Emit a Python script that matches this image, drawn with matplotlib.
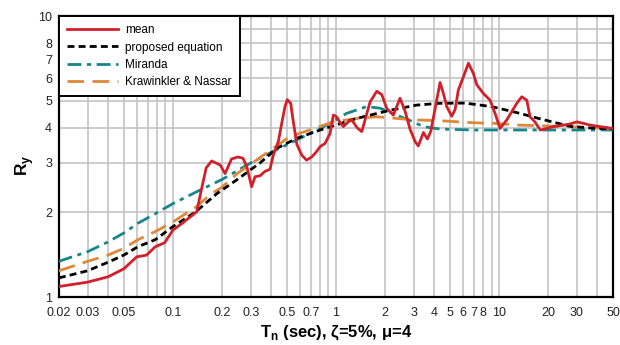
import matplotlib
matplotlib.use("Agg")
import matplotlib.pyplot as plt
from matplotlib.ticker import FixedLocator, NullFormatter

plt.rcParams['font.family'] = ['Liberation Sans', 'DejaVu Sans']

# mean
mean_T = [0.02, 0.03, 0.04, 0.05, 0.06, 0.069, 0.078, 0.089, 0.1, 0.114, 0.14, 0.147,
          0.16, 0.173, 0.195, 0.209, 0.229, 0.25, 0.269, 0.284, 0.304, 0.319, 0.342,
          0.367, 0.394, 0.413, 0.443, 0.465, 0.487, 0.503, 0.528, 0.548, 0.575, 0.617,
          0.66, 0.71, 0.76, 0.80, 0.857, 0.92, 0.964, 1.0, 1.034, 1.11, 1.19, 1.25,
          1.35, 1.44, 1.62, 1.78, 1.91, 2.05, 2.25, 2.47, 2.65, 2.85, 3.06, 3.2, 3.44,
          3.64, 3.82, 4.15, 4.35, 4.56, 4.78, 5.13, 5.38, 5.63, 6.05, 6.49, 6.96, 7.3,
          8.02, 8.81, 9.46, 10.15, 11.16, 12.85, 13.79, 14.8, 15.5, 16.6, 17.9, 19.6,
          21.6, 24.8, 27.3, 30.0, 32.9, 36.2, 41.7, 50.0]
mean_R = [1.09, 1.13, 1.18, 1.26, 1.39, 1.41, 1.51, 1.56, 1.73, 1.83, 2.01, 2.30,
          2.88, 3.05, 2.95, 2.75, 3.10, 3.15, 3.12, 2.91, 2.47, 2.68, 2.70,
          2.80, 2.85, 3.20, 3.57, 4.15, 4.76, 5.04, 4.89, 4.20, 3.50, 3.20,
          3.07, 3.15, 3.29, 3.43, 3.52, 3.82, 4.44, 4.40, 4.27, 4.04, 4.20, 4.27,
          4.00, 3.88, 4.95, 5.40, 5.25, 4.69, 4.44, 5.10, 4.60, 3.95, 3.57, 3.45, 3.85,
          3.65, 3.90, 5.02, 5.80, 5.30, 4.76, 4.40, 4.65, 5.45, 6.08, 6.79, 6.25, 5.70,
          5.30, 5.02, 4.50, 3.98, 4.27, 4.89, 5.16, 5.02, 4.38, 4.20, 3.93, 3.98,
          4.04, 4.09, 4.13, 4.20, 4.15, 4.09, 4.04, 3.98]

# proposed equation
prop_T = [0.02, 0.03, 0.04, 0.05, 0.061, 0.078, 0.1, 0.138, 0.1855, 0.246, 0.342,
          0.433, 0.574, 0.80, 1.34, 2.15, 3.13, 4.3, 6.2, 9.0, 11.2, 13.5, 17.5,
          23.0, 28.0, 40.0, 50.0]
prop_R = [1.17, 1.24, 1.33, 1.41, 1.51, 1.60, 1.78, 2.01, 2.33, 2.61, 3.00,
          3.38, 3.67, 3.93, 4.32, 4.62, 4.82, 4.89, 4.90, 4.76, 4.62, 4.50, 4.32,
          4.15, 4.04, 3.98, 3.97]

# Miranda
mir_T = [0.02, 0.03, 0.04, 0.05, 0.061, 0.078, 0.1, 0.14, 0.2, 0.3, 0.4, 0.52,
         0.84, 1.16, 1.54, 1.86, 2.36, 2.98, 3.44, 4.35, 7.0, 50.0]
mir_R = [1.34, 1.45, 1.57, 1.69, 1.83, 1.98, 2.15, 2.37, 2.62, 3.00, 3.27, 3.52,
         4.04, 4.50, 4.76, 4.70, 4.44, 4.20, 4.04, 3.96, 3.93, 3.93]

# Krawinkler & Nassar
kn_T = [0.02, 0.03, 0.04, 0.05, 0.061, 0.078, 0.1, 0.14, 0.17, 0.2, 0.246, 0.36,
        0.52, 0.69, 0.96, 1.34, 1.78, 2.36, 3.0, 4.35, 7.0, 9.3, 13.4, 27.0, 50.0]
kn_R = [1.24, 1.34, 1.41, 1.49, 1.60, 1.71, 1.85, 2.10, 2.32, 2.46, 2.74, 3.20,
        3.72, 3.93, 4.20, 4.32, 4.38, 4.32, 4.27, 4.24, 4.17, 4.15, 4.09, 4.04, 3.98]

x_ticks = [0.02, 0.03, 0.05, 0.1, 0.2, 0.3, 0.5, 0.7, 1, 2, 3, 4, 5, 6, 7, 8, 10, 20, 30, 50]
x_tick_labels = ["0.02", "0.03", "0.05", "0.1", "0.2", "0.3", "0.5", "0.7", "1", "2", "3",
                 "4", "5", "6", "7", "8", "10", "20", "30", "50"]
x_minor = [0.04, 0.06, 0.07, 0.08, 0.09, 0.4, 0.6, 0.8, 0.9, 9, 40]
y_ticks = [1, 2, 3, 4, 5, 6, 7, 8, 10]
y_tick_labels = ["1", "2", "3", "4", "5", "6", "7", "8", "10"]
y_minor = [9]

fig = plt.figure(figsize=(6.2, 3.45), dpi=100)
ax = fig.add_axes([0.095, 0.139, 0.8937, 0.8146])

ax.plot(mean_T, mean_R, color='#d0202a', lw=2.0, ls='-', label='mean', zorder=5)
ax.plot(prop_T, prop_R, color='black', lw=2.0, ls=(0, (2.5, 1.5)), label='proposed equation', zorder=4)
ax.plot(mir_T, mir_R, color='#17868a', lw=2.0, ls=(0, (5, 2, 1.5, 2)), label='Miranda', zorder=3)
ax.plot(kn_T, kn_R, color='#e0883a', lw=2.0, ls=(0, (6, 3)), label='Krawinkler & Nassar', zorder=3)

ax.set_xscale('log')
ax.set_yscale('log')
ax.set_xlim(0.02, 50)
ax.set_ylim(1, 10)

ax.xaxis.set_major_locator(FixedLocator(x_ticks))
ax.set_xticklabels(x_tick_labels)
ax.xaxis.set_minor_locator(FixedLocator(x_minor))
ax.xaxis.set_minor_formatter(NullFormatter())
ax.yaxis.set_major_locator(FixedLocator(y_ticks))
ax.set_yticklabels(y_tick_labels)
ax.yaxis.set_minor_locator(FixedLocator(y_minor))
ax.yaxis.set_minor_formatter(NullFormatter())

ax.tick_params(which='both', length=0, labelsize=9, colors='#222222')
ax.tick_params(axis='x', pad=7)
ax.tick_params(axis='y', pad=5)
ax.grid(True, which='both', color='#c4c4c4', lw=1.2)
ax.set_axisbelow(True)
for s in ax.spines.values():
    s.set_linewidth(1.6)
    s.set_color('black')

ax.set_xlabel(r'T$_\mathregular{n}$ (sec), ζ=5%, μ=4', fontsize=12, fontweight='bold', labelpad=3)
ax.set_ylabel(r'R$_\mathregular{y}$', fontsize=12.5, fontweight='bold')
ax.yaxis.set_label_coords(-0.042, 0.47)

leg = ax.legend(loc='upper left', fontsize=8.5, frameon=True, fancybox=False,
                borderaxespad=0, handlelength=4.3, handletextpad=0.6,
                labelspacing=0.45, borderpad=0.7)
leg.get_frame().set_edgecolor('black')
leg.get_frame().set_linewidth(1.4)
leg.get_frame().set_alpha(1)

fig.savefig('out.png', dpi=100)
